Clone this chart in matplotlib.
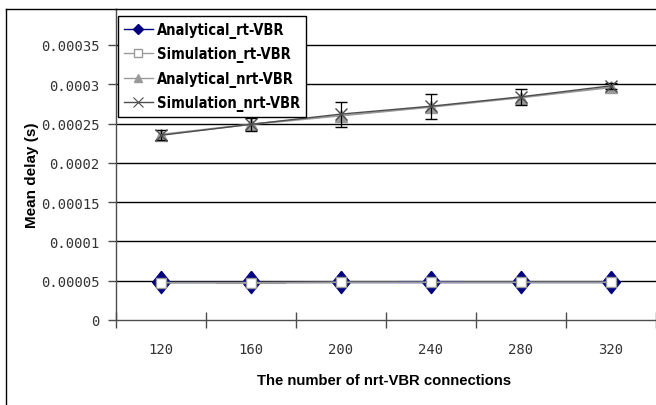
import matplotlib
matplotlib.use("Agg")
import matplotlib.pyplot as plt
from matplotlib.lines import Line2D
from matplotlib import font_manager
from matplotlib.font_manager import FontProperties
import numpy as np

# Number of nrt-VBR connections (category axis)
connections = ["120", "160", "200", "240", "280", "320"]

# Mean delay (s)
analytical_rt = [0.000048, 0.000048, 0.000048, 0.000048, 0.000048, 0.000048]
simulation_rt = [0.0000475, 0.0000475, 0.000048, 0.000048, 0.000048, 0.000048]
analytical_nrt = [0.000236, 0.000249, 0.000260, 0.000271, 0.000283, 0.000296]
simulation_nrt = [0.000235, 0.000249, 0.000262, 0.000272, 0.000284, 0.000298]

# Confidence half-widths of the nrt-VBR simulation
simulation_nrt_err = [0.0000065, 0.0000085, 0.000016, 0.000016, 0.000010, 0.000004]

# Horizontal error-bar stubs on the rt-VBR series (in category units)
analytical_rt_xerr = [0, 0, 0, 0.37, 0, 0]
simulation_rt_xerr = [0, 0.39, 0, 0, 0, 0]

yticks = [0, 0.00005, 0.0001, 0.00015, 0.0002, 0.00025, 0.0003, 0.00035]
ytick_labels = ["0", "0.00005", "0.0001", "0.00015", "0.0002", "0.00025", "0.0003", "0.00035"]

NAVY = "#000080"
GREY = "#9a9a9a"
DARK = "#4d4d4d"


def narrow_bold_font(size):
    """A bold condensed/narrow face if one is installed, else Liberation Sans Bold."""
    condensed = ("condensed", "semi-condensed", "extra-condensed", "ultra-condensed")
    for f in font_manager.fontManager.ttflist:
        nm = f.name.lower()
        fn = f.fname.lower()
        is_narrow = ("narrow" in nm or "condensed" in nm or "condensed" in fn
                     or "narrow" in fn or str(f.stretch) in condensed)
        is_bold = (f.weight in (600, 700, 800, "bold", "demibold")
                   or "bold" in fn.split("/")[-1])
        if is_narrow and is_bold and "italic" not in fn and "oblique" not in fn:
            return FontProperties(fname=f.fname, size=size)
    return FontProperties(family=["Liberation Sans", "DejaVu Sans"],
                          weight="bold", size=size * 0.95)


legend_font = narrow_bold_font(10.5)

fig = plt.figure(figsize=(6.56, 4.06), dpi=100)
fig.patch.set_facecolor("white")
ax = fig.add_axes([116 / 656, 1 - 321 / 406, 1 - 116 / 656, (321 - 10) / 406])

x = np.arange(1, len(connections) + 1)

# Horizontal gridlines
for yv in yticks[1:]:
    ax.axhline(yv, color="black", lw=1.0, zorder=1)

# Tall diamond marker
diamond = [(0, 1), (0.8, 0), (0, -1), (-0.8, 0), (0, 1)]

# nrt-VBR series
ax.plot(x, analytical_nrt, color=GREY, lw=1.3, marker="^", ms=8,
        mfc=GREY, mec=GREY, zorder=3)
ax.errorbar(x, simulation_nrt, yerr=simulation_nrt_err, color=DARK, lw=1.0,
            marker="x", ms=8, mew=1.0, ecolor="black", elinewidth=0.9,
            capsize=4, capthick=0.9, zorder=4)

# rt-VBR series
ax.errorbar(x, analytical_rt, xerr=analytical_rt_xerr, color=NAVY, lw=1.0,
            marker=diamond, ms=16, mfc=NAVY, mec=NAVY, ecolor=NAVY,
            elinewidth=1.5, capsize=0, zorder=3)
ax.errorbar(x, simulation_rt, xerr=simulation_rt_xerr, color=GREY, lw=1.3,
            marker="s", ms=7, mfc="white", mec=GREY, mew=1.0, ecolor=GREY,
            elinewidth=1.5, capsize=0, zorder=4)

ax.set_xlim(0.5, len(connections) + 0.5)
ax.set_ylim(0, 0.0003957)

# Category axis: ticks between categories, labels at centres
ax.set_xticks(np.arange(0.5, len(connections) + 1.0, 1.0))
ax.set_xticklabels([])
ax.set_xticks(x, minor=True)
ax.set_xticklabels(connections, minor=True, fontsize=10, color="#333333",
                   family="DejaVu Sans Mono")
ax.tick_params(axis="x", which="major", direction="inout", length=12,
               width=1.0, color=DARK)
ax.tick_params(axis="x", which="minor", length=0, pad=16)

ax.set_yticks(yticks)
ax.set_yticklabels(ytick_labels, fontsize=10, color="#333333",
                   family="DejaVu Sans Mono")
ax.tick_params(axis="y", direction="out", length=6, width=1.0, color=DARK, pad=6)

ax.spines["right"].set_visible(False)
ax.spines["left"].set_color(DARK)
ax.spines["bottom"].set_color(DARK)
ax.spines["top"].set_color("black")
for s in ("left", "bottom", "top"):
    ax.spines[s].set_linewidth(1.0)

ax.set_xlabel("The number of nrt-VBR connections", fontsize=10.7,
              fontweight="bold", family=["Liberation Sans", "DejaVu Sans"])
ax.xaxis.set_label_coords(0.497, -0.172)
ax.set_ylabel("Mean delay (s)", fontsize=11, fontweight="bold",
              family=["Liberation Sans", "DejaVu Sans"])
ax.yaxis.set_label_coords(-0.143, 0.47)

# Outer chart border (left and top edges)
fig.add_artist(Line2D([6 / 656, 6 / 656], [0, 1 - 10 / 406], color="black",
                      lw=1.0, transform=fig.transFigure))
fig.add_artist(Line2D([6 / 656, 116 / 656], [1 - 10 / 406, 1 - 10 / 406],
                      color="black", lw=1.0, transform=fig.transFigure))

handles = [
    Line2D([], [], color=NAVY, lw=1.0, marker="D", ms=5, mfc=NAVY, mec=NAVY),
    Line2D([], [], color=GREY, lw=1.0, marker="s", ms=6, mfc="white", mec=GREY),
    Line2D([], [], color=GREY, lw=1.0, marker="^", ms=6, mfc=GREY, mec=GREY),
    Line2D([], [], color=DARK, lw=1.0, marker="x", ms=7, mew=0.8),
]
labels = ["Analytical_rt-VBR", "Simulation_rt-VBR", "Analytical_nrt-VBR",
          "Simulation_nrt-VBR"]
leg = ax.legend(handles, labels, loc="upper left",
                bbox_to_anchor=(118 / 656, 1 - 17 / 406),
                bbox_transform=fig.transFigure,
                prop=legend_font,
                frameon=True, fancybox=False, framealpha=1, edgecolor="black",
                borderpad=0.4, labelspacing=0.58, handlelength=2.0,
                handletextpad=0.3, borderaxespad=0)
leg.get_frame().set_linewidth(1.0)
leg.set_zorder(10)

fig.savefig("out.png", dpi=100, facecolor="white")
